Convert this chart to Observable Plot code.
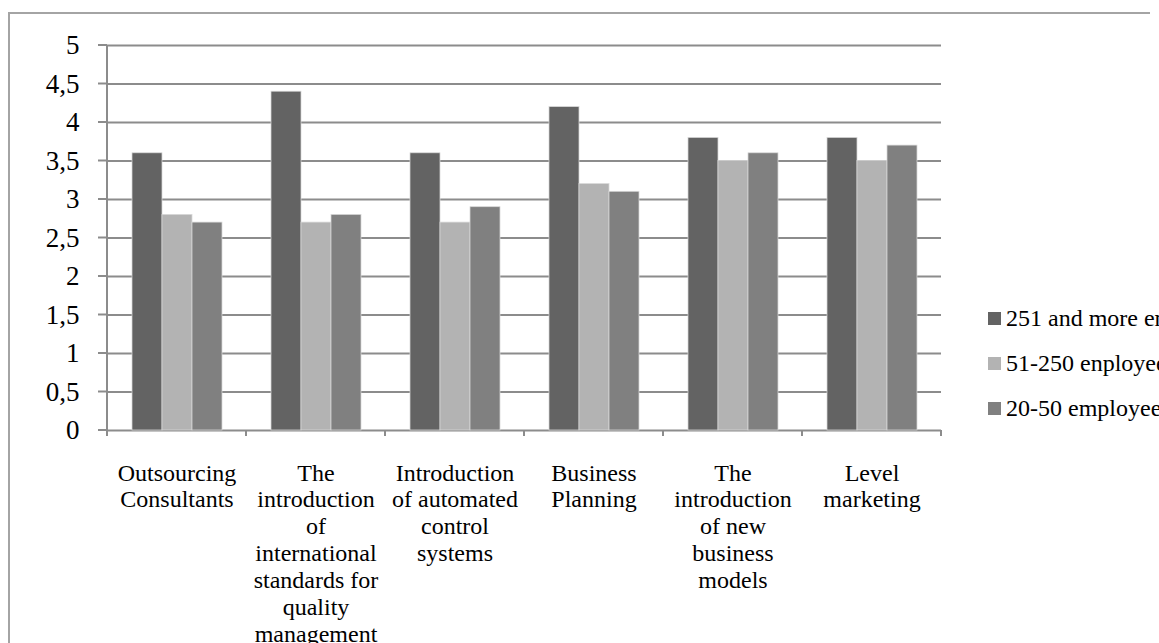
<!DOCTYPE html>
<html>
<head>
<meta charset="utf-8">
<script src="https://cdn.jsdelivr.net/npm/d3@7"></script>
<script src="https://cdn.jsdelivr.net/npm/@observablehq/plot@0.6"></script>
<style>
  html, body { margin: 0; padding: 0; background: #fff; }
  #wrap { position: relative; width: 1159px; height: 643px; overflow: hidden; }
  #border { position: absolute; left: 8px; top: 12px; width: 1142px; height: 640px; border-top: 2px solid #a4a4a4; border-left: 2px solid #a4a4a4; box-sizing: border-box; }
  #chart { position: absolute; left: 0; top: 0; }
  #legend { position: absolute; left: 988px; top: 296px; white-space: nowrap; }
  .row { display: flex; align-items: center; height: 45px; font-size: 24px; color: #000; }
  .sw { width: 13px; height: 13px; margin-right: 5px; flex: none; }
</style>
</head>
<body>
<div id="wrap">
  <div id="border"></div>
  <div id="chart"></div>
  <div id="legend"></div>
</div>
<script>
// Management tools, average rating by company size
const categories = [
  "Outsourcing Consultants",
  "The introduction of international standards for quality management",
  "Introduction of automated control systems",
  "Business Planning",
  "The introduction of new business models",
  "Level marketing"
];
const categoryLabels = [
  "Outsourcing\nConsultants",
  "The\nintroduction\nof\ninternational\nstandards for\nquality\nmanagement",
  "Introduction\nof automated\ncontrol\nsystems",
  "Business\nPlanning",
  "The\nintroduction\nof new\nbusiness\nmodels",
  "Level\nmarketing"
];
const series = ["251 and more employees", "51-250 enployees", "20-50 employees"];
const large = [3.6, 4.4, 3.6, 4.2, 3.8, 3.8];
const midSize = [2.8, 2.7, 2.7, 3.2, 3.5, 3.5];
const small = [2.7, 2.8, 2.9, 3.1, 3.6, 3.7];
const seriesColors = ["#636363", "#b3b3b3", "#808080"];
const yTicks = [0, 0.5, 1, 1.5, 2, 2.5, 3, 3.5, 4, 4.5, 5];
const yTickLabels = ["0", "0,5", "1", "1,5", "2", "2,5", "3", "3,5", "4", "4,5", "5"];

const valuesBySeries = [large, midSize, small];
const rows = categories.flatMap((c, i) =>
  series.map((s, j) => ({category: c, group: s, value: valuesBySeries[j][i]}))
);

// Pick the first serif face that is actually available
function pickSerif() {
  const candidates = ["Liberation Serif", "Times New Roman", "Tinos", "Nimbus Roman", "FreeSerif", "Noto Serif", "DejaVu Serif", "Times"];
  const ctx = document.createElement("canvas").getContext("2d");
  const sample = "Outsourcing Consultants 0,5 WMmil";
  const bases = ["monospace", "sans-serif"];
  for (const name of candidates) {
    let found = false;
    for (const base of bases) {
      ctx.font = `24px ${base}`;
      const w0 = ctx.measureText(sample).width;
      ctx.font = `24px "${name}", ${base}`;
      if (ctx.measureText(sample).width !== w0) found = true;
    }
    if (found) return `"${name}", serif`;
  }
  return "serif";
}
const serif = pickSerif();
document.getElementById("wrap").style.fontFamily = serif;

const gridColor = "#8c8c8c";

const plot = Plot.plot({
  width: 1159,
  height: 643,
  marginLeft: 106,
  marginRight: 217,
  marginTop: 45,
  marginBottom: 213,
  style: {fontFamily: serif, background: "transparent", color: "#000", overflow: "visible"},
  fx: {domain: categories, padding: 0, axis: null, label: null},
  x: {domain: series, axis: null, label: null, paddingInner: 0, paddingOuter: 0.75},
  y: {domain: [0, 5], axis: null, label: null},
  color: {domain: series, range: seriesColors},
  marks: [
    Plot.ruleY(yTicks, {stroke: gridColor, strokeWidth: 2}),
    Plot.barY(rows, {fx: "category", x: "group", y: "value", fill: "group", stroke: "#d8d8d8", strokeWidth: 0.75}),
    Plot.axisY(yTicks, {
      anchor: "left",
      label: null,
      tickSize: 0,
      tickPadding: 28,
      fontSize: 27,
      fill: "#000",
      tickFormat: d => yTickLabels[yTicks.indexOf(d)]
    }),
    Plot.text(categories, {
      fx: d => d,
      text: d => categoryLabels[categories.indexOf(d)],
      frameAnchor: "bottom",
      lineAnchor: "top",
      dy: 31,
      fontSize: 24,
      lineHeight: 1.12,
      fill: "#000"
    })
  ]
});

// Axis line and tick marks in the spreadsheet style
const svg = d3.select(plot);
svg.selectAll("text").attr("font-family", serif).style("font-family", serif);
const fx = plot.scale("fx");
const y = plot.scale("y");
const y0 = y.apply(0), yTop = y.apply(5);
const left = fx.apply(categories[0]);
const bounds = categories.map(c => fx.apply(c)).concat([fx.apply(categories[categories.length - 1]) + fx.bandwidth]);
const g = svg.append("g").attr("stroke", gridColor).attr("stroke-width", 2);
g.append("line").attr("x1", left).attr("x2", left).attr("y1", yTop).attr("y2", y0 + 6);
yTicks.forEach(t => {
  g.append("line").attr("x1", left - 9).attr("x2", left).attr("y1", y.apply(t)).attr("y2", y.apply(t));
});
bounds.forEach(b => {
  g.append("line").attr("x1", b).attr("x2", b).attr("y1", y0).attr("y2", y0 + 6);
});

document.getElementById("chart").appendChild(plot);

// Legend
const legend = d3.select("#legend");
series.forEach((s, i) => {
  const row = legend.append("div").attr("class", "row");
  row.append("div").attr("class", "sw").style("background", seriesColors[i]);
  row.append("span").text(s);
});
</script>
</body>
</html>
